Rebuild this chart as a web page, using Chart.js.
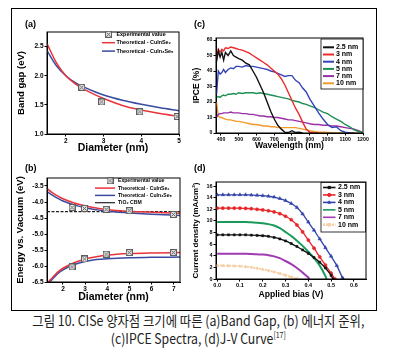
<!DOCTYPE html>
<html><head><meta charset="utf-8">
<script src="https://cdn.jsdelivr.net/npm/chart.js@4"></script>
<style>
html,body{margin:0;padding:0;background:#fff;}
body{width:397px;height:355px;position:relative;overflow:hidden;}
canvas{position:absolute;}
#frame{position:absolute;left:11px;top:8px;width:364px;height:301px;border:1px solid #000;}
.plab{position:absolute;font:bold 9px "Liberation Sans",Arial,sans-serif;color:#000;line-height:10px;}
.cap{position:absolute;left:0;width:397px;text-align:center;font-family:"Noto Sans CJK KR","Noto Sans",sans-serif;font-size:14px;line-height:18px;color:#222;white-space:nowrap;}
.cap span{display:inline-block;transform-origin:50% 50%;}
.cap sup{font-size:8px;vertical-align:6px;line-height:0;}
</style></head>
<body>
<div id="frame"></div>
<canvas id="ca"></canvas><canvas id="cb"></canvas><canvas id="cc"></canvas><canvas id="cd"></canvas>
<div class="plab" style="left:25px;top:19px">(a)</div>
<div class="plab" style="left:194px;top:19px">(c)</div>
<div class="plab" style="left:25px;top:163px">(b)</div>
<div class="plab" style="left:194px;top:163px">(d)</div>
<div class="cap" style="top:311px"><span data-w="332">그림 10. CISe 양자점 크기에 따른 (a)Band Gap, (b) 에너지 준위,</span></div>
<div class="cap" style="top:329px"><span data-w="175">(c)IPCE Spectra, (d)J-V Curve<sup>[17]</sup></span></div>
<script>
// ---------- DATA ----------
// (a) band gap vs diameter
const aDiam = [1.5, 1.75, 2, 2.25, 2.5, 2.75, 3, 3.5, 4, 4.5, 5];
const aGapCuInSe2 = [2.55, 2.22, 2.00, 1.86, 1.76, 1.68, 1.61, 1.49, 1.41, 1.35, 1.30];
const aGapCuIn3Se5 = [2.43, 2.17, 2.00, 1.88, 1.80, 1.73, 1.67, 1.58, 1.51, 1.45, 1.40];
const aExpDiam = [2.42, 2.95, 3.96, 4.95];
const aExpGap = [1.80, 1.55, 1.38, 1.30];
const aXTicks = [2, 3, 4, 5];
const aYTicks = [1.0, 1.5, 2.0, 2.5];

// (b) energy levels vs diameter
const bCbDiam = [1.3, 1.5, 1.75, 2, 2.5, 3, 3.5, 4, 5, 6, 7.28];
const bCbCuInSe2 = [-3.59, -3.70, -3.81, -3.90, -4.03, -4.12, -4.19, -4.24, -4.29, -4.32, -4.35];
const bCbCuIn3Se5 = [-3.68, -3.78, -3.88, -3.97, -4.09, -4.18, -4.24, -4.29, -4.34, -4.38, -4.42];
const bVbDiam = [1.33, 1.4, 1.5, 1.75, 2, 2.5, 3, 3.5, 4, 5, 6, 7.28];
const bVbCuInSe2 = [-6.5, -6.45, -6.38, -6.20, -6.07, -5.90, -5.78, -5.71, -5.66, -5.61, -5.59, -5.58];
const bVbCuIn3Se5 = [null, -6.5, -6.43, -6.25, -6.12, -5.96, -5.86, -5.80, -5.77, -5.74, -5.73, -5.72];
const bExpDiam = [2.41, 2.97, 3.95, 4.99, 6.98];
const bExpCB = [-4.17, -4.20, -4.23, -4.27, -4.39];
const bExpVB = [-6.03, -5.78, -5.63, -5.58, -5.58];
const bTiO2Cbm = -4.3;
const bXTicks = [2, 3, 4, 5, 6, 7];
const bYTicks = [-6.5, -6.0, -5.5, -5.0, -4.5, -4.0, -3.5];

// (c) IPCE spectra
const ipceWl = [375, 385, 395, 405, 415, 425, 440, 455, 470, 485, 500, 520, 540, 560, 580, 600, 620, 640, 660, 680, 700, 720, 740, 760, 780, 800, 820, 840, 860, 880, 900, 925, 950, 975, 1000, 1025, 1050, 1075, 1100, 1125, 1150, 1175, 1195];
const ipce25 = [46, 53, 49, 52, 47, 52, 50, 53, 50, 49, 48, 47, 45, 44, 40, 36, 31, 26, 20, 14, 9, 5, 2.5, 0.5, 0.3, 1.5, 0.3, 0.5, 0];
const ipce3 = [48, 54, 52, 54, 53, 55, 54.5, 55.5, 55, 54.5, 54, 53.5, 52.5, 51.5, 50, 48.5, 47, 45.5, 44, 42, 40, 38, 35, 31, 26, 21, 16, 12, 7, 2.5, 0.5, 0, 0];
const ipce4 = [25, 40, 38, 39, 41, 39, 41, 42, 41.5, 43, 43, 42.5, 43.5, 43, 43, 42.5, 42, 41.5, 41, 40, 39.5, 38.5, 37.5, 36.5, 37, 37, 34, 32.5, 29, 26.5, 22, 17.5, 13, 9, 5.5, 3.5, 4, 1.5, 0.5, 0, 0];
const ipce5 = [23, 23.5, 23, 24, 24.5, 24, 25, 25, 25.5, 25, 26, 25.5, 26, 26, 26, 25.5, 26, 25.5, 25, 24.5, 24, 23.5, 23, 22.5, 22, 21, 20.5, 20, 19, 18.5, 17.5, 16.5, 15, 13.5, 12.5, 10.5, 9, 7.5, 5.5, 4, 2, 1, 0.5];
const ipce7 = [10, 12, 12.5, 12.5, 13, 13, 13, 13.5, 13, 13, 13, 12.5, 12.5, 12, 12, 11.5, 11, 11, 10.5, 10.5, 10, 10, 9.5, 9, 8.5, 8.5, 8, 7.5, 7, 6.5, 6, 5.5, 5.5, 5, 5, 4.5, 4.5, 4, 3.5, 3, 2.5, 1.5, 0.5];
const ipce10 = [20, 11, 10, 10, 9.5, 9, 8.5, 8.5, 8, 7.5, 7.5, 7, 6.5, 6, 5.5, 5.5, 5, 4.5, 4.5, 4, 4, 3.5, 3.5, 3.5, 3.5, 3.5, 3.5, 3, 2.5, 2, 1.5, 1, 0.5, 0.5, 0.3, 0, 0, 0, 0, 0, 0, 0, 0];
const cXTicks = [400, 500, 600, 700, 800, 900, 1000, 1100, 1200];
const cYTicks = [0, 10, 20, 30, 40, 50, 60];

// (d) J-V curves
const jvV = [0, 0.025, 0.05, 0.075, 0.1, 0.125, 0.15, 0.175, 0.2, 0.225, 0.25, 0.275, 0.3, 0.325, 0.35, 0.375, 0.4, 0.425, 0.45, 0.475, 0.5, 0.525, 0.55];
const jv25 = [7.6, 7.6, 7.6, 7.6, 7.6, 7.6, 7.55, 7.5, 7.45, 7.35, 7.15, 6.9, 6.55, 6.1, 5.6, 5.0, 4.4, 3.7, 2.9, 1.9, 0.6];
const jv3 = [12.2, 12.2, 12.2, 12.2, 12.2, 12.15, 12.1, 12.0, 11.9, 11.75, 11.55, 11.25, 10.8, 10.2, 9.3, 8.1, 6.7, 5.3, 3.8, 2.4, 1.0];
const jv4 = [14.5, 14.5, 14.5, 14.5, 14.5, 14.5, 14.45, 14.4, 14.35, 14.25, 14.1, 13.85, 13.5, 13.0, 12.3, 11.2, 9.8, 8.4, 6.9, 5.4, 3.9, 2.3, 0.2];
const jv5 = [9.8, 9.8, 9.8, 9.8, 9.8, 9.8, 9.75, 9.7, 9.6, 9.45, 9.2, 8.75, 8.1, 7.4, 6.6, 5.7, 4.7, 3.6, 2.3, 0.5];
const jv7 = [4.35, 4.35, 4.35, 4.35, 4.35, 4.33, 4.3, 4.25, 4.2, 4.1, 3.9, 3.6, 3.1, 2.55, 1.9, 1.1, 0.25];
const jv10 = [2.3, 2.3, 2.28, 2.25, 2.2, 2.12, 2.0, 1.85, 1.65, 1.45, 1.2, 0.95, 0.65, 0.35, 0.05];
const jvVoc = [0.508, 0.517, 0.553, 0.48, 0.405, 0.355];
const dXTicks = [0, 0.1, 0.2, 0.3, 0.4, 0.5, 0.6];
const dYTicks = [0, 2, 4, 6, 8, 10, 12, 14, 16];

const sizeLabels = ['2.5 nm', '3 nm', '4 nm', '5 nm', '7 nm', '10 nm'];

// ---------- SETUP ----------
const FONT = '"Liberation Sans", Arial, sans-serif';
Chart.defaults.font.family = FONT;
Chart.defaults.font.weight = 'bold';
Chart.defaults.color = '#000';
Chart.defaults.animation = false;

function xy(xs, ys) {
  const out = [];
  ys.forEach((y, i) => { if (y !== null && y !== undefined) out.push({x: xs[i], y}); });
  return out;
}

function expMarker(size) {
  const c = document.createElement('canvas');
  c.width = size; c.height = size;
  const g = c.getContext('2d');
  g.fillStyle = '#e6e6e6';
  g.fillRect(0, 0, size, size);
  g.strokeStyle = '#5e5e5e'; g.lineWidth = 1;
  g.strokeRect(0.5, 0.5, size - 1, size - 1);
  g.beginPath(); g.moveTo(1.5, 1.5); g.lineTo(size - 1.5, size - 1.5);
  g.moveTo(size - 1.5, 1.5); g.lineTo(1.5, size - 1.5); g.stroke();
  return c;
}

function place(id, rect, area) {
  const c = document.getElementById(id);
  c.width = rect.r - rect.l; c.height = rect.b - rect.t;
  c.style.left = rect.l + 'px'; c.style.top = rect.t + 'px';
  c.style.width = c.width + 'px'; c.style.height = c.height + 'px';
  return {
    ctx: c,
    padding: {left: 0, top: area.t - rect.t, right: rect.r - area.r, bottom: 0},
    yW: area.l - rect.l, xH: rect.b - area.b
  };
}

function axis(o) {
  return {
    type: 'linear', min: o.min, max: o.max,
    afterBuildTicks: s => { s.ticks = o.ticks.map(v => ({value: v})); },
    afterFit: s => { if (o.isX) s.height = o.fit; else s.width = o.fit; },
    ticks: {font: {size: o.tickSize, weight: 'bold'}, padding: 1, maxRotation: 0, autoSkip: false, color: '#000',
      callback: v => o.fmt(v)},
    grid: {display: true, drawOnChartArea: false, drawTicks: true, tickLength: 2.5, color: '#000', lineWidth: 1},
    border: {display: true, color: '#000', width: 1},
    title: {display: true, text: o.title, color: '#000', font: {size: o.titleSize, weight: 'bold'},
      padding: {top: o.titlePad, bottom: o.titlePad}}
  };
}

const framePlugin = {
  id: 'frameBox',
  afterDatasetsDraw(chart) {
    const {ctx, chartArea: a} = chart;
    ctx.save(); ctx.strokeStyle = '#000'; ctx.lineWidth = 1;
    ctx.strokeRect(a.left, a.top, a.right - a.left, a.bottom - a.top);
    ctx.restore();
  }
};

const legendPlugin = {
  id: 'inLegend',
  afterDraw(chart, args, o) {
    if (!o || !o.rows) return;
    const ctx = chart.ctx, ds = chart.data.datasets;
    const ox = chart.canvas.offsetLeft, oy = chart.canvas.offsetTop;
    ctx.save();
    if (o.box) {
      ctx.fillStyle = '#fff';
      ctx.fillRect(o.box.l - ox, o.box.t - oy, o.box.r - o.box.l, o.box.b - o.box.t);
      ctx.strokeStyle = '#000'; ctx.lineWidth = 0.8;
      ctx.strokeRect(o.box.l - ox, o.box.t - oy, o.box.r - o.box.l, o.box.b - o.box.t);
    }
    ctx.font = 'bold ' + o.size + 'px ' + FONT;
    ctx.textBaseline = 'middle'; ctx.textAlign = 'left';
    o.rows.forEach((r, i) => {
      const d = ds[r.ds];
      const y = o.y0 + i * o.dy - oy;
      const x1 = o.lx1 - ox, x2 = o.lx2 - ox;
      if (r.line !== false) {
        ctx.setLineDash(r.dash || []);
        ctx.strokeStyle = d.borderColor; ctx.lineWidth = r.lw || d.borderWidth;
        ctx.beginPath(); ctx.moveTo(x1, y); ctx.lineTo(x2, y); ctx.stroke();
        ctx.setLineDash([]);
      }
      if (r.point) {
        ctx.fillStyle = d.pointBackgroundColor || d.borderColor;
        ctx.strokeStyle = d.pointBorderColor || d.borderColor;
        ctx.lineWidth = 1;
        const px = (r.px !== undefined ? r.px - ox : (x1 + x2) / 2);
        Chart.helpers.drawPoint(ctx, {pointStyle: d.pointStyle, radius: r.pr || d.pointRadius, borderWidth: 1, rotation: 0}, px, y);
      }
      ctx.fillStyle = '#000';
      ctx.fillText(d.label, o.tx - ox, y);
    });
    ctx.restore();
  }
};

const base = (L) => ({
  responsive: false, animation: false, events: [],
  layout: {padding: L.padding},
  plugins: {legend: {display: false}, tooltip: {enabled: false}}
});

// ---------- (a) ----------
const red = '#e8353b', blue = '#3a4aa0';
(function () {
  const L = place('ca', {l: 12, t: 12, r: 190, b: 160}, {l: 47, t: 32, r: 179, b: 134});
  const opt = base(L);
  opt.scales = {
    x: axis({isX: true, min: 1.5, max: 5, ticks: aXTicks, fmt: v => String(v), fit: L.xH, tickSize: 6.5,
      title: 'Diameter (nm)', titleSize: 10.5, titlePad: 5.7}),
    y: axis({min: 1.0, max: 2.75, ticks: aYTicks, fmt: v => v.toFixed(1), fit: L.yW, tickSize: 6.5,
      title: 'Band gap (eV)', titleSize: 9.5, titlePad: 4})
  };
  opt.plugins.inLegend = {size: 5.4, y0: 34.3, dy: 8.4, lx1: 102, lx2: 115, tx: 116.5,
    rows: [{ds: 0, line: false, point: true}, {ds: 1}, {ds: 2}]};
  new Chart(L.ctx, {
    type: 'line',
    data: {datasets: [
      {label: 'Experimental value', data: xy(aExpDiam, aExpGap), showLine: false, pointStyle: expMarker(7), pointRadius: 3.5, borderColor: '#777'},
      {label: 'Theoretical - CuInSe₂', data: xy(aDiam, aGapCuInSe2), borderColor: red, borderWidth: 1.5, pointRadius: 0, cubicInterpolationMode: 'monotone'},
      {label: 'Theoretical - CuIn₃Se₅', data: xy(aDiam, aGapCuIn3Se5), borderColor: blue, borderWidth: 1.5, pointRadius: 0, cubicInterpolationMode: 'monotone'}
    ]},
    options: opt, plugins: [framePlugin, legendPlugin]
  });
})();

// ---------- (b) ----------
(function () {
  const L = place('cb', {l: 12, t: 162, r: 190, b: 306}, {l: 47, t: 178, r: 180, b: 282});
  const opt = base(L);
  const xMin = 1.28, xMax = 7.28;
  opt.scales = {
    x: axis({isX: true, min: xMin, max: xMax, ticks: bXTicks, fmt: v => String(v), fit: L.xH, tickSize: 6.5,
      title: 'Diameter (nm)', titleSize: 10.5, titlePad: 2.7}),
    y: axis({min: -6.5, max: -3.25, ticks: bYTicks, fmt: v => v.toFixed(1), fit: L.yW, tickSize: 6.5,
      title: 'Energy vs. Vacuum (eV)', titleSize: 9.5, titlePad: 2.3})
  };
  opt.plugins.inLegend = {size: 5.1, y0: 180.8, dy: 7.3, lx1: 95, lx2: 115, tx: 118,
    rows: [{ds: 0, line: false, point: true, px: 110}, {ds: 1}, {ds: 2}, {ds: 5, dash: []}]};
  new Chart(L.ctx, {
    type: 'line',
    data: {datasets: [
      {label: 'Experimental value', data: xy(bExpDiam, bExpCB).concat(xy(bExpDiam, bExpVB)), showLine: false, pointStyle: expMarker(7), pointRadius: 3.5, borderColor: '#777'},
      {label: 'Theoretical - CuInSe₂', data: xy(bCbDiam, bCbCuInSe2), borderColor: red, borderWidth: 1.5, pointRadius: 0, cubicInterpolationMode: 'monotone'},
      {label: 'Theoretical - CuIn₃Se₅', data: xy(bCbDiam, bCbCuIn3Se5), borderColor: blue, borderWidth: 1.5, pointRadius: 0, cubicInterpolationMode: 'monotone'},
      {label: 'vb1', data: xy(bVbDiam, bVbCuInSe2), borderColor: red, borderWidth: 1.5, pointRadius: 0, cubicInterpolationMode: 'monotone'},
      {label: 'vb2', data: xy(bVbDiam, bVbCuIn3Se5), borderColor: blue, borderWidth: 1.5, pointRadius: 0, cubicInterpolationMode: 'monotone'},
      {label: 'TiO₂ CBM', data: [{x: xMin, y: bTiO2Cbm}, {x: xMax, y: bTiO2Cbm}], borderColor: '#222', borderWidth: 1.2, borderDash: [3, 1.5], pointRadius: 0}
    ]},
    options: opt, plugins: [framePlugin, legendPlugin]
  });
})();

// ---------- (c) ----------
const cCols = ['#111111', '#ee2a2a', '#3344bb', '#1c8f52', '#9a2fa8', '#f39a2a'];
(function () {
  const L = place('cc', {l: 188, t: 12, r: 376, b: 158}, {l: 216, t: 38, r: 363, b: 133});
  const opt = base(L);
  opt.scales = {
    x: axis({isX: true, min: 372, max: 1200, ticks: cXTicks, fmt: v => String(v), fit: L.xH, tickSize: 5.2,
      title: 'Wavelength (nm)', titleSize: 8.6, titlePad: 6.9}),
    y: axis({min: 0, max: 61.3, ticks: cYTicks, fmt: v => String(v), fit: L.yW, tickSize: 5.2,
      title: 'IPCE (%)', titleSize: 8.5, titlePad: 3.9})
  };
  opt.plugins.inLegend = {size: 7, y0: 47.3, dy: 7.2, lx1: 323, lx2: 334, tx: 336,
    box: {l: 321, t: 39, r: 363, b: 89},
    rows: [0, 1, 2, 3, 4, 5].map(i => ({ds: i, lw: 2}))};
  const series = [ipce25, ipce3, ipce4, ipce5, ipce7, ipce10];
  new Chart(L.ctx, {
    type: 'line',
    data: {datasets: series.map((s, i) => ({label: sizeLabels[i], data: xy(ipceWl, s), borderColor: cCols[i], borderWidth: 1.4, pointRadius: 0, tension: 0}))},
    options: opt, plugins: [framePlugin, legendPlugin]
  });
})();

// ---------- (d) ----------
const dCols = ['#111111', '#e8262a', '#3344aa', '#1a9a5a', '#a03ab0', '#f5cfa5'];
(function () {
  const L = place('cd', {l: 188, t: 162, r: 376, b: 306}, {l: 216, t: 182, r: 366, b: 279});
  const opt = base(L);
  opt.scales = {
    x: axis({isX: true, min: -0.005, max: 0.653, ticks: dXTicks, fmt: v => v.toFixed(1), fit: L.xH, tickSize: 5.5,
      title: 'Applied bias (V)', titleSize: 8.6, titlePad: 5.9}),
    y: axis({min: 0, max: 16.7, ticks: dYTicks, fmt: v => String(v), fit: L.yW, tickSize: 5.5,
      title: 'Current density (mA/cm²)', titleSize: 8, titlePad: 3.2})
  };
  const series = [jv25, jv3, jv4, jv5, jv7, jv10];
  const styles = [
    {pointStyle: 'rect', pointRadius: 1.5, borderWidth: 1.3},
    {pointStyle: 'circle', pointRadius: 1.6, borderWidth: 1.3},
    {pointStyle: 'triangle', pointRadius: 2, borderWidth: 1.3},
    {pointStyle: 'circle', pointRadius: 0, borderWidth: 2},
    {pointStyle: 'circle', pointRadius: 0, borderWidth: 2},
    {pointStyle: 'circle', pointRadius: 1.2, borderWidth: 2, borderDash: [2, 1]}
  ];
  opt.plugins.inLegend = {size: 7, y0: 187.5, dy: 7.45, lx1: 323, lx2: 335.5, tx: 338,
    box: {l: 321, t: 182.5, r: 365.5, b: 232},
    rows: [0, 1, 2, 3, 4, 5].map(i => ({ds: i, point: styles[i].pointRadius > 0, pr: 1.6, lw: i === 5 ? 2.5 : 1.6, dash: i === 5 ? [2, 1] : []}))};
  new Chart(L.ctx, {
    type: 'line',
    data: {datasets: series.map((s, i) => Object.assign({
      label: sizeLabels[i],
      data: xy(jvV, s).concat([{x: jvVoc[i], y: 0}]),
      borderColor: dCols[i], backgroundColor: dCols[i],
      pointBackgroundColor: dCols[i], pointBorderColor: dCols[i], pointBorderWidth: 0.5,
      cubicInterpolationMode: 'monotone'
    }, styles[i]))},
    options: opt, plugins: [framePlugin, legendPlugin]
  });
})();

// caption fit
document.querySelectorAll('.cap span').forEach(s => {
  const w = s.getBoundingClientRect().width;
  s.style.transform = 'scaleX(' + (+s.dataset.w / w) + ')';
});
</script>
</body></html>
